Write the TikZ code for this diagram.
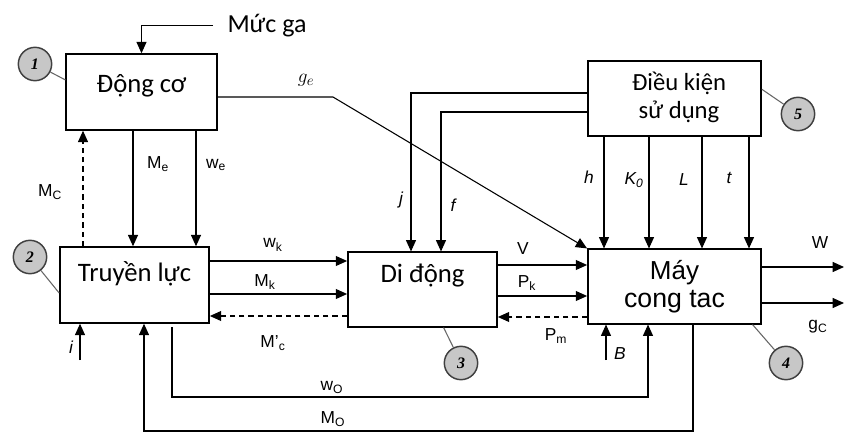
\documentclass[tikz,border=0pt]{standalone}
\usepackage{fontspec}
\setmainfont{Carlito}
\newfontfamily\lblfont{Liberation Sans}
\newfontfamily\numfont{Liberation Serif}
\usetikzlibrary{arrows.meta}

\begin{document}
\begin{tikzpicture}[x=0.75pt,y=-0.75pt,line join=miter,
  block/.style={draw,line width=1.1pt,inner sep=0pt},
  num/.style={circle,draw=black!75,fill=black!22,line width=1.1pt,minimum size=25pt,inner sep=0pt,font=\numfont\bfseries\itshape\fontsize{12}{12}\selectfont},
  pin/.style={draw=black!60,line width=0.8pt},
  flow/.style={line width=0.8pt,-{Triangle[length=8.5pt,width=7.5pt]}},
  back/.style={flow,dash pattern=on 4pt off 3pt},
  big/.style={font=\fontsize{20}{22}\selectfont,inner sep=0pt,anchor=base},
  lbl/.style={font=\lblfont\fontsize{13}{14}\selectfont,inner sep=1pt},
  var/.style={font=\lblfont\itshape\fontsize{13}{14}\selectfont,inner sep=1pt}]
% engine, transmission, travel unit, working machine, operating conditions

\useasboundingbox (0,0) rectangle (844,432);

% blocks
\node[block,minimum width=113pt,minimum height=57pt] (engine) at (141.5,92) {};
\node[block,minimum width=112pt,minimum height=57pt] (trans) at (134.5,285) {};
\node[block,minimum width=112pt,minimum height=56pt] (move) at (422.5,289.5) {};
\node[block,minimum width=130pt,minimum height=56pt] (machine) at (674.5,286.5) {};
\node[block,minimum width=130pt,minimum height=56pt] (cond) at (674.5,98.5) {};

% block texts
\node[big] (engineTxt) at (141.5,92) {Động cơ};
\node[big] (transTxt) at (134.5,281) {Truyền lực};
\node[big] (moveTxt) at (422.5,282) {Di động};
\node[big,font=\lblfont\fontsize{19.5}{22}\selectfont] (machineTxtA) at (674.5,279) {Máy};
\node[big,font=\lblfont\fontsize{20}{22}\selectfont] (machineTxtB) at (674.5,307) {cong tac};
\node[big,font=\fontsize{18.5}{22}\selectfont] (condTxtA) at (679,90) {Điều kiện};
\node[big,font=\fontsize{18.5}{22}\selectfont] (condTxtB) at (679,118) {sử dụng};
\node[big,font=\fontsize{19.5}{22}\selectfont,inner xsep=10.5pt] (gas) at (267,32) {Mức ga};

% numbered circles
\node[num] (c1) at (35,64) {1};
\node[num] (c2) at (30,257) {2};
\node[num] (c3) at (461,363) {3};
\node[num] (c4) at (786,363) {4};
\node[num] (c5) at (798,114) {5};
\draw[pin] (c1) -- (engine.171);
\draw[pin] (c2) -- (trans.186);
\draw[pin] (c3) -- (move.299);
\draw[pin] (c4) -- (machine.334);
\draw[pin] (c5) -- (cond.6);

% tap points
\coordinate (xMc) at (83,0);
\coordinate (xMe) at (133,0);
\coordinate (xwe) at (196,0);
\coordinate (ywk) at (0,261);
\coordinate (yMk) at (0,294);
\coordinate (yMc) at (0,316);
\coordinate (yV) at (0,265);
\coordinate (yPk) at (0,296);
\coordinate (yPm) at (0,317);
\coordinate (yW) at (0,267);
\coordinate (ygc) at (0,303);
\coordinate (yj) at (0,93);
\coordinate (yf) at (0,112);
\coordinate (xj) at (411,0);
\coordinate (xf) at (441,0);
\coordinate (xh) at (604,0);
\coordinate (xK) at (649,0);
\coordinate (xL) at (702,0);
\coordinate (xt) at (749,0);
\coordinate (xi) at (80,0);
\coordinate (xB) at (606,0);
\coordinate (xwo) at (648,0);
\coordinate (ywo) at (0,397);
\coordinate (xMo) at (144,0);
\coordinate (yMo) at (0,431);
\coordinate (gebend) at (333,97);
\coordinate (woStart) at (172,327);
\coordinate (MoStart) at (693,325);
\coordinate (iEnd) at (80,360);
\coordinate (BEnd) at (606,360);
\coordinate (WEnd) at (844,0);

% engine side
\draw[flow] (gas.west) -| (engine.north);
\draw[flow] (engine.east |- gebend) -- (gebend) -- (machine.north west);
\draw[back] (trans.north -| xMc) -- (engine.south -| xMc);
\draw[flow] (engine.south -| xMe) -- (trans.north -| xMe);
\draw[flow] (engine.south -| xwe) -- (trans.north -| xwe);

% transmission to travel unit
\draw[flow] (trans.east |- ywk) -- (move.west |- ywk);
\draw[flow] (trans.east |- yMk) -- (move.west |- yMk);
\draw[back] (move.west |- yMc) -- (trans.east |- yMc);

% travel unit to machine
\draw[flow] (move.east |- yV) -- (machine.west |- yV);
\draw[flow] (move.east |- yPk) -- (machine.west |- yPk);
\draw[back] (machine.west |- yPm) -- (move.east |- yPm);

% machine outputs
\draw[flow] (machine.east |- yW) -- (WEnd |- yW);
\draw[flow] (machine.east |- ygc) -- (WEnd |- ygc);

% operating conditions
\draw[flow] (cond.west |- yj) -| (move.north -| xj);
\draw[flow] (cond.west |- yf) -| (move.north -| xf);
\draw[flow] (cond.south -| xh) -- (machine.north -| xh);
\draw[flow] (cond.south -| xK) -- (machine.north -| xK);
\draw[flow] (cond.south -| xL) -- (machine.north -| xL);
\draw[flow] (cond.south -| xt) -- (machine.north -| xt);

% inputs from below and feedback
\draw[flow] (iEnd) -- (trans.south -| xi);
\draw[flow] (BEnd) -- (machine.south -| xB);
\draw[flow] (woStart) |- (ywo -| xwo) -- (machine.south -| xwo);
\draw[flow] (MoStart) |- (yMo -| xMo) -- (trans.south -| xMo);

% labels
\node[font=\fontsize{15}{15}\selectfont] (geLbl) at (306,80) {$g_e$};
\node[lbl] (McLbl) at (50,192) {M\textsubscript{C}};
\node[lbl] (MeLbl) at (158,164) {M\textsubscript{e}};
\node[lbl] (weLbl) at (216,165) {w\textsubscript{e}};
\node[lbl] (wkLbl) at (273,245) {w\textsubscript{k}};
\node[lbl] (MkLbl) at (265,282) {M\textsubscript{k}};
\node[lbl] (McpLbl) at (273,343) {M’\textsubscript{c}};
\node[lbl] (VLbl) at (523,249) {V};
\node[lbl] (PkLbl) at (527,283) {P\textsubscript{k}};
\node[lbl] (PmLbl) at (556,336) {P\textsubscript{m}};
\node[lbl] (WLbl) at (820,243) {W};
\node[lbl] (gcLbl) at (818,327) {g\textsubscript{C}};
\node[lbl] (woLbl) at (332,387) {w\textsubscript{O}};
\node[lbl] (MoLbl) at (333,419) {M\textsubscript{O}};
\node[var] (jLbl) at (401,200) {j};
\node[var] (fLbl) at (453,205) {f};
\node[var] (hLbl) at (589,177) {h};
\node[var] (KLbl) at (634,180) {K\textsubscript{0}};
\node[var] (LLbl) at (684,180) {L};
\node[var] (tLbl) at (729,178) {t};
\node[var] (iLbl) at (71,347) {i};
\node[var] (BLbl) at (620,354) {B};

\end{tikzpicture}
\end{document}
